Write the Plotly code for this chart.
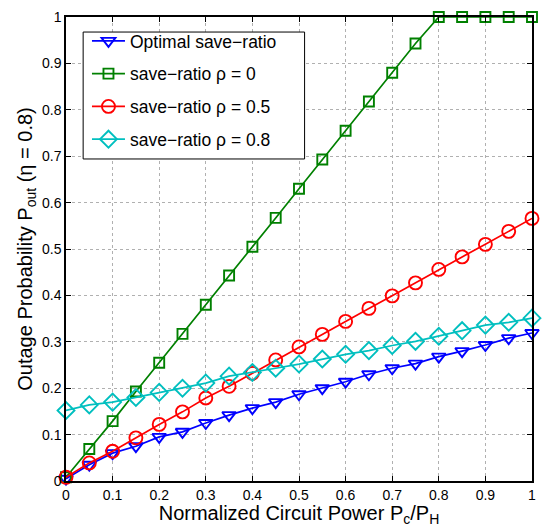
import plotly.graph_objects as go

x_vals = [0, 0.05, 0.1, 0.15, 0.2, 0.25, 0.3, 0.35, 0.4, 0.45, 0.5,
          0.55, 0.6, 0.65, 0.7, 0.75, 0.8, 0.85, 0.9, 0.95, 1.0]

optimal = [0.005, 0.035, 0.060, 0.075, 0.095, 0.106, 0.125, 0.142, 0.157, 0.170, 0.187,
           0.200, 0.214, 0.230, 0.243, 0.253, 0.268, 0.280, 0.293, 0.308, 0.319]
rho_0 = [0.008, 0.069, 0.129, 0.193, 0.255, 0.317, 0.380, 0.443, 0.505, 0.567, 0.630,
         0.693, 0.755, 0.818, 0.880, 0.943, 1.0, 1.0, 1.0, 1.0, 1.0]
rho_05 = [0.008, 0.039, 0.064, 0.093, 0.122, 0.149, 0.179, 0.204, 0.232, 0.261, 0.289,
          0.316, 0.344, 0.372, 0.399, 0.427, 0.456, 0.483, 0.510, 0.538, 0.566]
rho_08 = [0.152, 0.164, 0.170, 0.180, 0.191, 0.200, 0.211, 0.226, 0.234, 0.243, 0.252,
          0.263, 0.273, 0.281, 0.292, 0.301, 0.312, 0.324, 0.336, 0.342, 0.351]

names = ["Optimal save−ratio", "save−ratio ρ = 0", "save−ratio ρ = 0.5", "save−ratio ρ = 0.8"]
colors = ["#0000FF", "#008000", "#FF0000", "#00BFBF"]
symbols = ["triangle-down-open", "square-open", "circle-open", "diamond-open"]
sizes = [12, 10, 13, 13]
series = [optimal, rho_0, rho_05, rho_08]

tick_vals = [0, 0.1, 0.2, 0.3, 0.4, 0.5, 0.6, 0.7, 0.8, 0.9, 1]
tick_text = ["0", "0.1", "0.2", "0.3", "0.4", "0.5", "0.6", "0.7", "0.8", "0.9", "1"]

font_family = "Liberation Sans, Arial, Helvetica, sans-serif"

fig = go.Figure()
for i, (name, ys) in enumerate(zip(names, series)):
    fig.add_trace(go.Scatter(
        x=x_vals, y=ys, name=name, mode="lines+markers",
        line=dict(color=colors[i], width=1.7),
        marker=dict(symbol=symbols[i], size=sizes[i], color=colors[i],
                    line=dict(color=colors[i], width=1.9)),
        legendgroup=f"g{i}",
        cliponaxis=False,
    ))

axis_common = dict(
    range=[0, 1], tickvals=tick_vals, ticktext=tick_text,
    showgrid=True, gridcolor="#b0b0b0", griddash="dot", gridwidth=1,
    showline=True, linecolor="black", linewidth=1.5, mirror="ticks",
    ticks="inside", ticklen=5, tickcolor="black", tickwidth=1,
    zeroline=False,
    tickfont=dict(family=font_family, size=14, color="black"),
)

# legend frame (wider than Plotly's auto-sized box, as in the reference)
fig.add_shape(type="rect", xref="paper", yref="paper",
              x0=0.0368, x1=0.512, y0=0.694, y1=0.9676,
              line=dict(color="black", width=1), fillcolor="white", layer="above")

fig.update_layout(
    width=545, height=527,
    margin=dict(l=66, r=9, t=12, b=46),
    paper_bgcolor="white", plot_bgcolor="white",
    font=dict(family=font_family, color="black"),
    xaxis=dict(**axis_common,
               title=dict(text="Normalized Circuit Power P<sub>c</sub>/P<sub>H</sub>",
                          font=dict(family=font_family, size=20, color="black"),
                          standoff=0)),
    yaxis=dict(**axis_common,
               title=dict(text="Outage Probability P<sub>out</sub> (η = 0.8)",
                          font=dict(family=font_family, size=20, color="black"),
                          standoff=4)),
    legend=dict(
        x=0.045, y=0.987, xanchor="left", yanchor="top",
        bgcolor="rgba(0,0,0,0)", borderwidth=0,
        font=dict(family=font_family, size=17.5, color="black"),
        tracegroupgap=7,
        itemwidth=33,
    ),
)

fig.write_html("out.html",
               config={"displayModeBar": False},
               post_script="document.body.style.margin='0';document.body.style.overflow='hidden';")
